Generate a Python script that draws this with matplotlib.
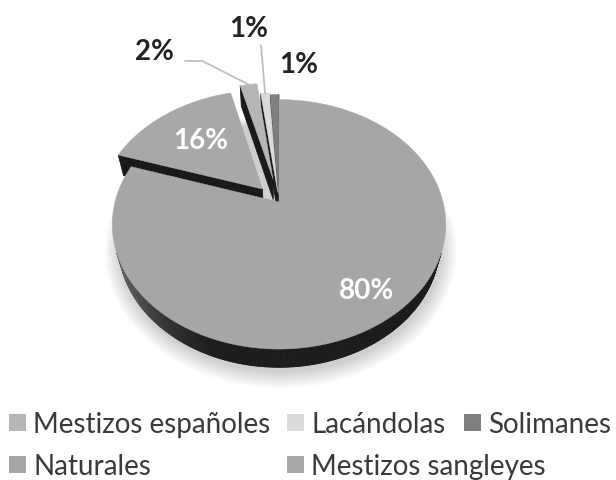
import numpy as np
import matplotlib.pyplot as plt
from matplotlib.patches import Polygon, Rectangle

plt.rcParams['font.family'] = ['Lato', 'DejaVu Sans']

# datos
categorias = ['Mestizos españoles', 'Lacándolas', 'Solimanes', 'Naturales', 'Mestizos sangleyes']
porcentajes = [2, 1, 1, 80, 16]
colores = ['#b6b6b6', '#dadada', '#7f7f7f', '#a6a6a6', '#a8a8a8']
separacion = [0.2, 0.08, 0.06, 0.0, 0.15]

# vista 3D (perspectiva simple)
ELEV = np.radians(47.4)
DIST = 3.78
GROSOR = 0.19
ESCALA = 164.0          # px por unidad de radio
ORIGEN = (279, 203)     # px (desde arriba-izquierda)
W, H = 616, 481


def proyectar(x, y, z=0.0):
    x = np.asarray(x, dtype=float)
    y = np.asarray(y, dtype=float)
    sy = y * np.sin(ELEV) + z * np.cos(ELEV)
    dz = -y * np.cos(ELEV) + z * np.sin(ELEV)
    s = DIST / (DIST - dz)
    return x * s, sy * s, dz


def gris(v):
    v = float(np.clip(v, 0, 1))
    return (v, v, v)


fig = plt.figure(figsize=(W / 100, H / 100), dpi=100)

# el pie de matplotlib da los angulos y desplazamientos de cada porcion
aux = fig.add_axes([0, 0, 0.1, 0.1])
cunas, _ = aux.pie(porcentajes, explode=separacion, startangle=104.4,
                   counterclock=False, radius=1.0)
geom = [(w.center, w.r, w.theta1, w.theta2) for w in cunas]
fig.delaxes(aux)

ax = fig.add_axes([0, 0, 1, 1])
ax.set_xlim(-ORIGEN[0] / ESCALA, (W - ORIGEN[0]) / ESCALA)
ax.set_ylim(-(H - ORIGEN[1]) / ESCALA, ORIGEN[1] / ESCALA)
ax.axis('off')

# sombra suave bajo el pastel
ang = np.linspace(0, 2 * np.pi, 200)
for k in range(8):
    rr = 1.0 + 0.012 * k
    sx, sy, _ = proyectar(rr * np.cos(ang) + 0.01, rr * np.sin(ang) - 0.03, -GROSOR)
    ax.add_patch(Polygon(np.column_stack([sx, sy]), closed=True, facecolor='black',
                         edgecolor='none', alpha=0.025))

cam_y = -DIST * np.cos(ELEV)
paredes = []
tapas = []
for i, ((cx, cy), r, t1, t2) in enumerate(geom):
    n = max(4, int((t2 - t1) * 2))
    t = np.radians(np.linspace(t1, t2, n))
    xs = np.concatenate([[cx], cx + r * np.cos(t)])
    ys = np.concatenate([[cy], cy + r * np.sin(t)])
    m = len(xs)
    for j in range(m):
        k = (j + 1) % m
        ex, ey = xs[k] - xs[j], ys[k] - ys[j]
        ln = np.hypot(ex, ey)
        if ln == 0:
            continue
        nx, ny = ey / ln, -ex / ln
        mx, my = (xs[j] + xs[k]) / 2, (ys[j] + ys[k]) / 2
        if nx * (0 - mx) + ny * (cam_y - my) <= 0:
            continue
        px1, py1, _ = proyectar([xs[j], xs[k]], [ys[j], ys[k]], 0.0)
        px2, py2, _ = proyectar([xs[k], xs[j]], [ys[k], ys[j]], -GROSOR)
        _, _, prof = proyectar(mx, my, -GROSOR / 2)
        radial = (j == 0) or (k == 0)
        if radial:
            c = gris(0.1)
        else:
            c = gris(0.11 + 0.36 * np.clip((-nx - 0.3) / 0.7, 0, 1) ** 1.5)
        verts = np.column_stack([np.concatenate([px1, px2]), np.concatenate([py1, py2])])
        paredes.append((float(prof), verts, c))
    tx, ty, _ = proyectar(xs, ys, 0.0)
    tapas.append(np.column_stack([tx, ty]))

paredes.sort(key=lambda p: p[0])
for _, verts, c in paredes:
    ax.add_patch(Polygon(verts, closed=True, facecolor=c, edgecolor=c, lw=0.6))
for i, verts in enumerate(tapas):
    ax.add_patch(Polygon(verts, closed=True, facecolor=colores[i], edgecolor=colores[i], lw=0.3))


def punto_medio(i, f):
    (cx, cy), r, t1, t2 = geom[i]
    a = np.radians((t1 + t2) / 2)
    x, y, _ = proyectar(cx + f * r * np.cos(a), cy + f * r * np.sin(a), 0.0)
    return float(x), float(y)


fs_lab = 20
# etiquetas dentro
for i, f in [(3, 0.8), (4, 0.62)]:
    x, y = punto_medio(i, f)
    ax.text(x, y, f'{porcentajes[i]}%', color='white', fontsize=fs_lab,
            fontweight='bold', ha='center', va='center')

# etiquetas fuera
lider = '#c0c0c0'
ax.annotate(f'{porcentajes[0]}%', xy=punto_medio(0, 1.0), xytext=(-94, 34),
            textcoords='offset pixels', fontsize=fs_lab, fontweight='bold',
            color='#222222', ha='center', va='center',
            arrowprops=dict(arrowstyle='-', color=lider, lw=1.3, relpos=(1.0, 0.1),
                            connectionstyle='angle,angleA=0,angleB=153,rad=0',
                            shrinkA=6, shrinkB=0))
ax.annotate(f'{porcentajes[1]}%', xy=punto_medio(1, 1.0), xytext=(-16, 65),
            textcoords='offset pixels', fontsize=fs_lab, fontweight='bold',
            color='#222222', ha='center', va='center',
            arrowprops=dict(arrowstyle='-', color=lider, lw=1.3, relpos=(0.8, 0.0),
                            shrinkA=1, shrinkB=0))
ax.annotate(f'{porcentajes[2]}%', xy=punto_medio(2, 1.0), xytext=(24, 30),
            textcoords='offset pixels', fontsize=fs_lab, fontweight='bold',
            color='#222222', ha='center', va='center')

# leyenda (dos filas como en el original)
orden_leyenda = [0, 1, 2, 3, 4]
cuadro_x = [9, 287, 464, 9, 287]
cuadro_y = [415, 415, 415, 457, 457]
lado = 17
for idx, i in enumerate(orden_leyenda):
    x0, y0 = cuadro_x[idx], cuadro_y[idx]
    fig.add_artist(Rectangle((x0 / W, 1 - (y0 + lado) / H), lado / W, lado / H,
                             transform=fig.transFigure, facecolor=colores[i],
                             edgecolor='none'))
    fig.text((x0 + 24) / W, 1 - (y0 + 18.5) / H, categorias[i], fontsize=20,
             color='#3a3a3a', va='baseline', ha='left')

fig.savefig('out.png', dpi=100)
